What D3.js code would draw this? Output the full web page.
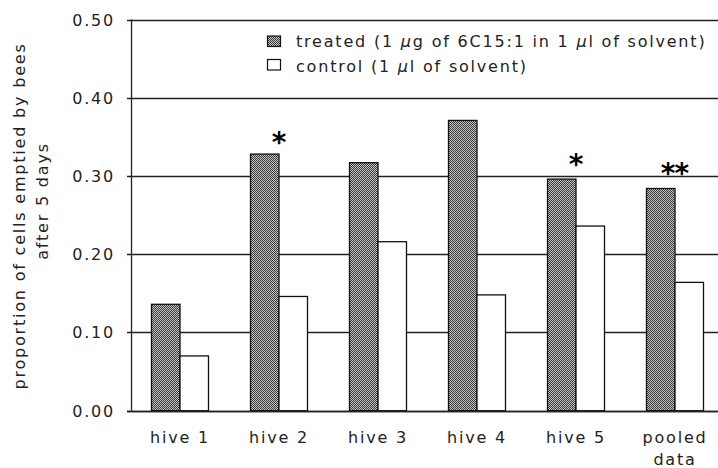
<!DOCTYPE html>
<html>
<head>
<meta charset="utf-8">
<script src="https://cdn.jsdelivr.net/npm/d3@7"></script>
<style>
  html, body { margin: 0; padding: 0; background: #fff; }
  svg { display: block; }
  text { font-family: "DejaVu Sans", sans-serif; fill: #222; }
</style>
</head>
<body>
<script>
// ---- data ----
const categories = ["hive 1", "hive 2", "hive 3", "hive 4", "hive 5", "pooled data"];
const treated = [0.136, 0.328, 0.317, 0.371, 0.296, 0.284];
const control = [0.070, 0.146, 0.216, 0.148, 0.236, 0.164];
const significance = ["", "*", "", "", "*", "**"];
const starLevel = [null, 0.350, null, null, 0.322, 0.310];
const yTicks = [0, 0.1, 0.2, 0.3, 0.4, 0.5];
const seriesNames = ["treated", "control"];

(function () {
const W = 718, H = 468;
const svg = d3.select("body").append("svg").attr("width", W).attr("height", H);
svg.append("rect").attr("width", W).attr("height", H).attr("fill", "#fff");

// pattern for treated bars
const defs = svg.append("defs");
const pat = defs.append("pattern").attr("id", "dots").attr("patternUnits", "userSpaceOnUse")
  .attr("width", 2).attr("height", 2);
pat.append("rect").attr("width", 2).attr("height", 2).attr("fill", "#c4c4c4");
pat.append("rect").attr("x", 0).attr("y", 0).attr("width", 1).attr("height", 1).attr("fill", "#3a3a3a");
pat.append("rect").attr("x", 1).attr("y", 1).attr("width", 1).attr("height", 1).attr("fill", "#3a3a3a");

const pLeft = 131, pRight = 725, pTop = 19.5, pBottom = 410.7;
const y = d3.scaleLinear().domain([0, 0.5]).range([pBottom, pTop]);
const x0 = d3.scaleBand().domain(categories).range([pLeft, pRight]).padding(0);
const x1 = d3.scaleBand().domain(seriesNames).range([20, 77]).padding(0);

const fontSize = 16, ls = 1.8;

// gridlines + ticks
const g = svg.append("g");
g.selectAll("line.grid").data(yTicks).join("line")
  .attr("x1", pLeft - 4).attr("x2", pRight)
  .attr("y1", d => Math.round(y(d)) + 0.5).attr("y2", d => Math.round(y(d)) + 0.5)
  .attr("stroke", "#222").attr("stroke-width", 1.3);
g.selectAll("text.tick").data(yTicks).join("text")
  .attr("x", 115).attr("y", d => y(d) + 6)
  .attr("text-anchor", "end")
  .attr("font-size", fontSize).attr("letter-spacing", ls)
  .text(d => d3.format(".2f")(d));

// legend
const lg = svg.append("g");
const legendItems = [
  {fill: "url(#dots)", y: 36, parts: [["treated (1 ", false], ["µ", true], ["g of 6C15:1 in 1 ", false], ["µ", true], ["l of solvent)", false]], base: 47},
  {fill: "#fff", y: 59.5, parts: [["control (1 ", false], ["µ", true], ["l of solvent)", false]], base: 71.5}
];
legendItems.forEach(it => {
  lg.append("rect").attr("x", 267.5).attr("y", it.y).attr("width", 13).attr("height", 10.5)
    .attr("fill", it.fill).attr("stroke", "#111").attr("stroke-width", 1.2);
  const t = lg.append("text").attr("x", 296).attr("y", it.base)
    .attr("font-size", fontSize).attr("letter-spacing", ls);
  it.parts.forEach(p => t.append("tspan").attr("font-style", p[1] ? "italic" : "normal").text(p[0]));
});

// bars
const groups = svg.append("g").selectAll("g").data(categories).join("g")
  .attr("transform", d => `translate(${x0(d)},0)`);
groups.each(function(c, i) {
  const vals = [treated[i], control[i]];
  d3.select(this).selectAll("rect").data(seriesNames).join("rect")
    .attr("x", s => x1(s) + 0.5)
    .attr("y", (s, j) => y(vals[j]))
    .attr("width", x1.bandwidth())
    .attr("height", (s, j) => y(0) - y(vals[j]))
    .attr("fill", s => s === "treated" ? "url(#dots)" : "#fff")
    .attr("stroke", "#111").attr("stroke-width", 1.3);
});

// axis line (left) and baseline on top
svg.append("line").attr("x1", pLeft + 0.5).attr("x2", pLeft + 0.5).attr("y1", y(0.5)).attr("y2", y(0))
  .attr("stroke", "#222").attr("stroke-width", 1.3);
svg.append("line").attr("x1", pLeft - 4).attr("x2", pRight).attr("y1", Math.round(y(0)) + 0.5).attr("y2", Math.round(y(0)) + 0.5)
  .attr("stroke", "#222").attr("stroke-width", 1.3);

// significance stars
svg.append("g").selectAll("text").data(categories).join("text")
  .attr("x", d => x0(d) + 48.5)
  .attr("y", (d, i) => starLevel[i] == null ? 0 : y(starLevel[i]) + 15)
  .attr("text-anchor", "middle")
  .attr("font-size", 28).attr("font-weight", "bold")
  .attr("letter-spacing", -1)
  .style("fill", "#000")
  .text((d, i) => significance[i]);

// x labels
const xl = svg.append("g").selectAll("text").data(categories).join("text")
  .attr("x", d => x0(d) + 49)
  .attr("y", 443)
  .attr("text-anchor", "middle")
  .attr("font-size", fontSize).attr("letter-spacing", ls);
xl.each(function(d) {
  const words = d === "pooled data" ? ["pooled", "data"] : [d];
  const t = d3.select(this);
  words.forEach((w, k) => t.append("tspan").attr("x", x0(d) + 49).attr("dy", k === 0 ? 0 : 21.5).text(w));
});

// y-axis title
svg.append("text").attr("transform", "translate(25,216) rotate(-90)")
  .attr("text-anchor", "middle").attr("font-size", fontSize).attr("letter-spacing", ls)
  .text("proportion of cells emptied by bees");
svg.append("text").attr("transform", "translate(48,201) rotate(-90)")
  .attr("text-anchor", "middle").attr("font-size", fontSize).attr("letter-spacing", ls)
  .text("after 5 days");
})();
</script>
</body>
</html>
